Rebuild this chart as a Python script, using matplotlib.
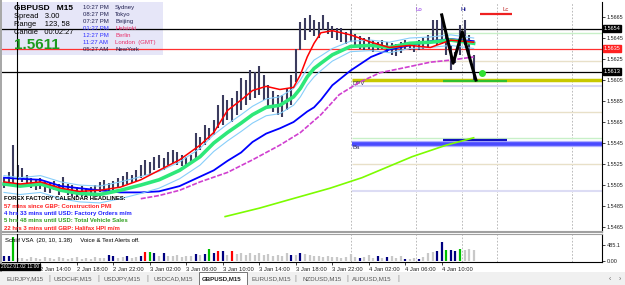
import matplotlib
matplotlib.use('Agg')
import matplotlib.pyplot as plt
import matplotlib.transforms as mtrans
from matplotlib.patches import Rectangle
import numpy as np

plt.rcParams['font.family'] = ['Liberation Sans', 'DejaVu Sans']

W, H = 625, 285

# ---- price bars (every second M15 bar, index counted from 2 Jan 10:00) ----
bar_idx = np.arange(0, 208, 2)
highs = [1.5512, 1.5517, 1.5543, 1.5524, 1.5521, 1.5515, 1.5512, 1.5510, 1.5512, 1.5508,
         1.5507, 1.5509, 1.5506, 1.5513, 1.5506, 1.5505, 1.5503, 1.5504, 1.5502, 1.5503,
         1.5505, 1.5508, 1.5510, 1.5507, 1.5509, 1.5512, 1.5514, 1.5517, 1.5515, 1.5519,
         1.5524, 1.5529, 1.5527, 1.5532, 1.5534, 1.5531, 1.5536, 1.5538, 1.5536, 1.5534,
         1.5532, 1.5534, 1.5555, 1.5551, 1.5562, 1.5559, 1.5567, 1.5581, 1.5591, 1.5586,
         1.5588, 1.5595, 1.5607, 1.5605, 1.5615, 1.5613, 1.5618, 1.5610, 1.5600, 1.5595,
         1.5591, 1.5591, 1.5597, 1.5610, 1.5635, 1.5660, 1.5664, 1.5667, 1.5662, 1.5660,
         1.5667, 1.5660, 1.5656, 1.5655, 1.5655, 1.5651, 1.5653, 1.5649, 1.5647, 1.5645,
         1.5646, 1.5643, 1.5641, 1.5643, 1.5641, 1.5640, 1.5639, 1.5641, 1.5643, 1.5641,
         1.5640, 1.5643, 1.5645, 1.5648, 1.5662, 1.5662, 1.5667, 1.5648, 1.5638, 1.5632,
         1.5657, 1.5662, 1.5648, 1.5629]
lows = [1.5502, 1.5504, 1.5507, 1.5510, 1.5508, 1.5504, 1.5502, 1.5500, 1.5501, 1.5498,
        1.5497, 1.5500, 1.5496, 1.5498, 1.5496, 1.5495, 1.5494, 1.5495, 1.5494, 1.5495,
        1.5495, 1.5498, 1.5500, 1.5498, 1.5500, 1.5502, 1.5504, 1.5506, 1.5507, 1.5509,
        1.5512, 1.5515, 1.5515, 1.5519, 1.5521, 1.5519, 1.5524, 1.5526, 1.5524, 1.5523,
        1.5524, 1.5526, 1.5529, 1.5538, 1.5543, 1.5548, 1.5553, 1.5559, 1.5562, 1.5567,
        1.5565, 1.5572, 1.5576, 1.5581, 1.5586, 1.5588, 1.5591, 1.5586, 1.5578, 1.5575,
        1.5572, 1.5570, 1.5576, 1.5581, 1.5603, 1.5634, 1.5643, 1.5651, 1.5647, 1.5645,
        1.5653, 1.5649, 1.5645, 1.5643, 1.5641, 1.5639, 1.5641, 1.5637, 1.5635, 1.5634,
        1.5635, 1.5632, 1.5634, 1.5635, 1.5632, 1.5629, 1.5628, 1.5631, 1.5634, 1.5634,
        1.5632, 1.5634, 1.5635, 1.5636, 1.5641, 1.5638, 1.5639, 1.5629, 1.5615, 1.5621,
        1.5629, 1.5638, 1.5629, 1.5605]

# volume for the same bars, colour code: g grey, n navy, G green, r red
volumes = [170, 150, 740, 90, 100, 70, 120, 80, 60, 110,
           90, 70, 130, 100, 60, 80, 110, 70, 90, 60,
           120, 80, 100, 190, 160, 90, 110, 140, 100, 130,
           170, 290, 290, 250, 150, 250, 160, 140, 180, 130,
           170, 150, 220, 180, 230, 380, 260, 320, 320, 200,
           320, 220, 260, 190, 240, 200, 260, 180, 220, 170,
           200, 160, 250, 180, 200, 260, 220, 190, 160, 140,
           120, 150, 110, 130, 100, 120, 220, 120, 90, 110,
           190, 100, 170, 90, 110, 170, 80, 140, 70, 60,
           80, 70, 130, 260, 290, 300, 580, 330, 350, 300,
           380, 340, 360, 350]
vol_codes = ('nnGggggggggggggggggggggnnggnggnrGngn'
             'ggggggngnGnrngrggggggggggggngnggggggggggggngggngngggnggngg'
             'gnnGnnGggggggg')
vol_codes = (vol_codes + 'g' * 104)[:104]

# ---- moving averages, read at sample bars ----
ma_idx = [0, 7, 16, 25, 33, 42, 51, 60, 68, 77, 86, 92, 98, 104, 109, 115, 121, 127, 130, 133,
          136, 139, 144, 152, 161, 169, 178, 187, 196, 206]
ma_red = [1.5508, 1.5506, 1.5508, 1.5502, 1.5499, 1.5500, 1.5503, 1.5510, 1.5519, 1.5529,
          1.5543, 1.5555, 1.5576, 1.5586, 1.5595, 1.5599, 1.5596, 1.5598, 1.5610, 1.5627,
          1.5640, 1.5650, 1.5652, 1.5648, 1.5641, 1.5636, 1.5638, 1.5636, 1.5643, 1.5641]
ma_green = [1.5506, 1.5504, 1.5506, 1.5500, 1.5497, 1.5496, 1.5500, 1.5505, 1.5510, 1.5519,
            1.5532, 1.5545, 1.5555, 1.5564, 1.5572, 1.5579, 1.5581, 1.5589, 1.5597, 1.5608,
            1.5616, 1.5621, 1.5629, 1.5637, 1.5638, 1.5636, 1.5640, 1.5641, 1.5643, 1.5640]
band_up = [1.5514, 1.5512, 1.5514, 1.5508, 1.5505, 1.5504, 1.5508, 1.5513, 1.5518, 1.5527,
           1.5540, 1.5553, 1.5563, 1.5572, 1.5580, 1.5587, 1.5589, 1.5597, 1.5605, 1.5616,
           1.5624, 1.5628, 1.5635, 1.5642, 1.5643, 1.5641, 1.5645, 1.5646, 1.5648, 1.5645]
band_dn = [1.5498, 1.5496, 1.5498, 1.5492, 1.5489, 1.5488, 1.5492, 1.5497, 1.5502, 1.5511,
           1.5524, 1.5537, 1.5547, 1.5556, 1.5564, 1.5571, 1.5573, 1.5581, 1.5589, 1.5600,
           1.5608, 1.5614, 1.5623, 1.5632, 1.5633, 1.5631, 1.5635, 1.5636, 1.5638, 1.5635]
ma_blue = [1.5512, 1.5511, 1.5510, 1.5504, 1.5502, 1.5500, 1.5498, 1.5498, 1.5499, 1.5504,
           1.5513, 1.5519, 1.5528, 1.5536, 1.5546, 1.5554, 1.5559, 1.5565, 1.5570, 1.5575,
           1.5579, 1.5586, 1.5600, 1.5614, 1.5627, 1.5634, 1.5638, 1.5642, 1.5644, 1.5642]
mag_idx = [60, 68, 77, 86, 98, 109, 121, 130, 139, 147, 156, 165, 174, 187, 196, 206]
ma_mag = [1.5492, 1.5495, 1.5500, 1.5508, 1.5517, 1.5529, 1.5543, 1.5555, 1.5572, 1.5591,
          1.5603, 1.5612, 1.5616, 1.5622, 1.5624, 1.5627]
lime_idx = [97, 112, 125, 143, 157, 179, 194, 206]
ma_lime = [1.5475, 1.5483, 1.5491, 1.5502, 1.5512, 1.5532, 1.5543, 1.5550]

zz_idx = [192, 197, 201, 207]
zz_val = [1.5667, 1.5621, 1.5651, 1.5605]

# levels
full_levels = [(1.5654, '#000000'), (1.5613, '#000000'), (1.5635, '#ff3030')]
day_start = 152.5
day_levels = [(1.5650, '#c8f0c8', 1.0), (1.5623, '#e8e0c8', 1.0), (1.5599, '#d8d8f4', 1.5),
              (1.5575, '#e8e0c8', 1.0), (1.5550, '#c8f0c8', 1.0), (1.5525, '#e8e0c8', 1.0),
              (1.5499, '#dcdcf4', 1.5)]
dpv_level = 1.5605
ba_level = 1.5544
session_idx = [152.2, 180.7, 200.9, 216.2, 249.1]

price_ticks = [1.5665, 1.5645, 1.5625, 1.5605, 1.5585, 1.5565, 1.5545, 1.5525, 1.5505, 1.5485, 1.5465]
time_idx = [16, 32, 48, 64, 80, 96, 112, 128, 144, 160, 176, 192]
time_labels = ['2 Jan 14:00', '2 Jan 18:00', '2 Jan 22:00', '3 Jan 02:00', '3 Jan 06:00',
               '3 Jan 10:00', '3 Jan 14:00', '3 Jan 18:00', '3 Jan 22:00', '4 Jan 02:00',
               '4 Jan 06:00', '4 Jan 10:00']
tabs = ['EURJPY,M15', 'USDCHF,M15', 'USDJPY,M15', 'USDCAD,M15', 'GBPUSD,M15',
        'EURUSD,M15', 'NZDUSD,M15', 'AUDUSD,M15']
tab_x = [25, 73, 122, 173, 222, 271, 322, 372]


def fx(x):
    return x / W


def fy(y):
    return 1 - y / H


fig = plt.figure(figsize=(W / 100, H / 100), dpi=100)
fig.patch.set_facecolor('white')

ax = fig.add_axes([fx(2), fy(232), fx(600), 230 / H])
axv = fig.add_axes([fx(2), fy(262), fx(600), 28 / H])
XL = (-0.88, 262.3)
for a in (ax, axv):
    a.set_xlim(*XL)
    a.set_facecolor('white')
    for s in ('left', 'top'):
        a.spines[s].set_visible(False)
    a.spines['right'].set_color('black')
    a.spines['right'].set_linewidth(0.8)
    a.yaxis.tick_right()
    a.tick_params(axis='y', length=2, width=0.6, labelsize=4.0, pad=1.2, colors='#222222')
ax.set_ylim(1.54603, 1.56793)
ax.spines['bottom'].set_color('#a0a0a0')
ax.spines['bottom'].set_linewidth(1.5)
ax.set_xticks([])
ax.set_yticks(price_ticks)
ax.set_yticklabels([f'{p:.4f}' for p in price_ticks])

# session separators
for a in (ax, axv):
    for xi in session_idx:
        a.axvline(xi, color='#b0b0b0', lw=0.6, ls=(0, (2, 2)), zorder=1)
    a.axvline(5.7, color='black', lw=0.8, zorder=6)

# info box behind the lines
ax.add_patch(Rectangle((fx(0), fy(55)), fx(163), 53 / H, transform=fig.transFigure,
                       facecolor='#e6e6f8', edgecolor='none', zorder=0))

for lvl, c in full_levels:
    ax.axhline(lvl, color=c, lw=0.9, zorder=2)
for lvl, c, lw in day_levels:
    ax.hlines(lvl, day_start, XL[1], color=c, lw=lw, zorder=1)
ax.hlines(dpv_level, day_start, XL[1], color='#c8c800', lw=2.5, zorder=2)
ax.hlines(ba_level, day_start, XL[1], color='#4a4aff', lw=2.6, zorder=2)
ax.hlines(ba_level, day_start, XL[1], color='#b0b0ff', lw=4.5, zorder=1)
ax.text(day_start + 0.5, dpv_level - 0.00005, 'DPV', fontsize=4.3, color='#303060', va='top', ha='left')
ax.text(day_start + 0.5, ba_level - 0.00005, 'Ba', fontsize=4.3, color='#303060', va='top', ha='left')
ax.hlines(1.5548, 192.5, 220.6, color='#1010c0', lw=1.6, zorder=3)
ax.hlines(1.5604, 192.5, 220.6, color='#30c030', lw=1.6, zorder=3)
ax.hlines(1.5668, 209, 223, color='#ee2020', lw=1.6, zorder=3)

# bars
ax.vlines(bar_idx, lows, highs, color='#3c3c5e', lw=1.5, zorder=3)

# moving averages
ax.plot(lime_idx, ma_lime, color='#7cfc00', lw=1.2, zorder=4)
ax.plot(mag_idx, ma_mag, color='#d040d0', lw=1.2, ls=(0, (3, 1)), zorder=4)
ax.plot(ma_idx, ma_blue, color='#0000ff', lw=1.3, zorder=4)
ax.plot(ma_idx, band_up, color='#87cefa', lw=0.8, zorder=4)
ax.plot(ma_idx, band_dn, color='#87cefa', lw=0.8, zorder=4)
ax.plot(ma_idx, ma_green, color='#2ee87a', lw=2.6, zorder=5)
ax.plot(ma_idx, ma_red, color='#ff0000', lw=1.1, zorder=5)
ax.plot(zz_idx, zz_val, color='black', lw=2.2, zorder=6)
ax.plot([209.6], [1.5612], 'o', color='#30e030', ms=4, zorder=7)

ax.text(182, 1.5672, 'Lo', fontsize=4.3, color='#8a2be2', ha='center', va='center')
ax.text(201.3, 1.5672, 'Hi', fontsize=4.3, color='#000080', ha='center', va='center')
ax.text(220, 1.5672, 'Lc', fontsize=4.3, color='#c02020', ha='center', va='center')

# price boxes on the axis
tr = mtrans.blended_transform_factory(ax.transAxes, ax.transData)
for lvl, bg in [(1.5654, 'black'), (1.5613, 'black'), (1.5635, '#ff2020')]:
    ax.text(1.003, lvl, f'{lvl:.4f}', transform=tr, fontsize=4.0, color='white', va='center',
            ha='left', bbox=dict(boxstyle='square,pad=0.12', fc=bg, ec=bg), zorder=10, clip_on=False)

# volume panel
vcol = {'g': '#c8c8c8', 'n': '#000080', 'G': '#00c000', 'r': '#ff0000'}
axv.vlines(bar_idx, 0, volumes, colors=[vcol[c] for c in vol_codes], lw=1.6, zorder=3)
axv.set_ylim(-32, 840)
axv.set_yticks([0, 485.1])
axv.set_yticklabels(['0.00', '485.1'])
axv.spines['bottom'].set_color('black')
axv.spines['bottom'].set_linewidth(0.8)
axv.spines['top'].set_visible(True)
axv.spines['top'].set_color('#a0a0a0')
axv.set_xticks(time_idx)
axv.set_xticklabels(time_labels, ha='left')
axv.tick_params(axis='x', length=2, width=0.6, labelsize=4.2, pad=1.5, colors='#222222')
axv.text(0.005, 0.78, 'Schiff VSA  (20, 10, 1.38)     Voice & Text Alerts off.', transform=axv.transAxes,
         fontsize=4.3, color='black', va='center')

# crosshair time label
fig.text(fx(1), fy(267), '2012.01.02 11:00', fontsize=3.5, color='white', va='center', ha='left',
         bbox=dict(boxstyle='square,pad=0.12', fc='black', ec='black'))

# info panel text
fig.text(fx(14), fy(8), 'GBPUSD   M15', fontsize=6.0, fontweight='bold', va='center')
fig.text(fx(14), fy(17), 'Spread   3.00', fontsize=5.4, va='center')
fig.text(fx(14), fy(25), 'Range    123, 58', fontsize=5.4, va='center')
fig.text(fx(14), fy(33), 'Candle   00:02:27', fontsize=5.4, va='center')
fig.text(fx(14), fy(45), '1.5611', fontsize=11, fontweight='bold', color='#1e9a1e', va='center')
clocks = [('10:27 PM', 'Sydney', '#202050', '#202050'), ('08:27 PM', 'Tokyo', '#202050', '#202050'),
          ('07:27 PM', 'Beijing', '#202050', '#202050'), ('01:27 PM', 'Helsinki', '#3030ff', '#e8306a'),
          ('12:27 PM', 'Berlin', '#3030ff', '#e8306a'), ('11:27 AM', 'London  (GMT)', '#3030ff', '#e8306a'),
          ('05:27 AM', 'NewYork', '#202050', '#202050')]
for i, (t, city, c1, c2) in enumerate(clocks):
    yy = 7.5 + i * 7
    fig.text(fx(83), fy(yy), t, fontsize=4.3, color=c1, va='center')
    fig.text(fx(115), fy(yy), city, fontsize=4.3, color=c2, va='center')

# calendar headlines
fig.text(fx(4), fy(198), 'FOREX FACTORY CALENDAR HEADLINES:', fontsize=4.2, fontweight='bold', va='center')
heads = [('57 mins since GBP: Construction PMI', '#ff2020'),
         ('4 hrs 33 mins until USD: Factory Orders m/m', '#2020ff'),
         ('5 hrs 48 mins until USD: Total Vehicle Sales', '#30a020'),
         ('22 hrs 3 mins until GBP: Halifax HPI m/m', '#ff2020')]
for i, (t, c) in enumerate(heads):
    fig.text(fx(4), fy(206 + i * 7.5), t, fontsize=4.3, fontweight='bold', color=c, va='center')

# window edge and tab bar
fig.add_artist(Rectangle((0, 0), fx(2), 1, transform=fig.transFigure, fc='#a8a8a8', ec='none'))
fig.add_artist(Rectangle((0, 0), 1, 13 / H, transform=fig.transFigure, fc='#f0f0f0', ec='none'))
fig.add_artist(Rectangle((fx(199), 0), fx(48), 13.5 / H, transform=fig.transFigure,
                         fc='white', ec='#606060', lw=0.6))
for i, (t, xc) in enumerate(zip(tabs, tab_x)):
    fig.text(fx(xc), fy(279), t, fontsize=4.4, color='#222222' if i == 4 else '#555555',
             ha='center', va='center', fontweight='bold' if i == 4 else 'normal')
for xs in [49, 98, 147, 295, 347, 398]:
    fig.text(fx(xs), fy(279), '|', fontsize=5, color='#888888', ha='center', va='center')
fig.text(fx(610), fy(279), '‹', fontsize=5, color='#666666', ha='center', va='center')
fig.text(fx(620), fy(279), '›', fontsize=5, color='#666666', ha='center', va='center')

fig.savefig('out.png', dpi=100)
